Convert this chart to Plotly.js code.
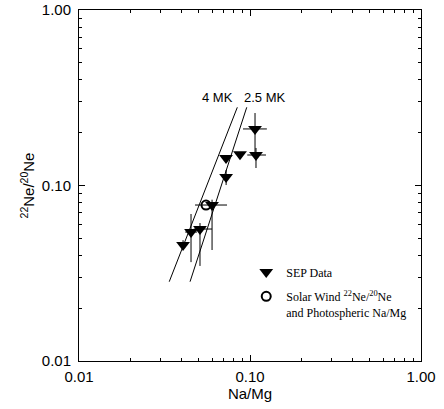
<!DOCTYPE html>
<html>
<head>
<meta charset="utf-8">
<script src="https://cdn.plot.ly/plotly-3.0.1.min.js"></script>
<style>html,body{margin:0;padding:0;background:#fff;}#chart{width:444px;height:409px;}</style>
</head>
<body>
<div id="chart"></div>
<script>
// SEP data points
var sepNaMg   = [0.0406, 0.0452, 0.0510, 0.0600, 0.0724, 0.0725, 0.0874, 0.1084, 0.1070];
var sepNe     = [0.0458, 0.0543, 0.0565, 0.0774, 0.1434, 0.1118, 0.1506, 0.1492, 0.2100];
var sepXplus  = [0, 0.0038, 0.0090, 0.0134, 0, 0, 0, 0.0156, 0.0185];
var sepXminus = [0, 0.0034, 0.0041, 0.0123, 0, 0, 0, 0.0120, 0.0160];
var sepYplus  = [0.0030, 0.0145, 0.0046, 0.0056, 0, 0.0107, 0, 0.0144, 0.0488];
var sepYminus = [0, 0.0177, 0.0217, 0.0345, 0, 0.0112, 0, 0.0234, 0.0610];
// Solar wind / photospheric point
var swNaMg = [0.0553];
var swNe   = [0.0774];
// Model lines
var model4x  = [0.0337, 0.0843];
var model4y  = [0.0283, 0.279];
var model25x = [0.0446, 0.0957];
var model25y = [0.0283, 0.279];
// Axis ticks
var tickVals = [0.01, 0.1, 1];
var tickText = ['0.01', '0.10', '1.00'];
var lineLabels = ['4 MK', '2.5 MK'];

var minorVals = [];
[0.01, 0.1].forEach(function(d){ for (var k = 2; k <= 9; k++) minorVals.push(d * k); });

var traces = [
  {x: model4x, y: model4y, mode: 'lines', line: {color: '#000', width: 1}, showlegend: false, hoverinfo: 'skip'},
  {x: model25x, y: model25y, mode: 'lines', line: {color: '#000', width: 1}, showlegend: false, hoverinfo: 'skip'},
  {x: sepNaMg, y: sepNe, mode: 'markers', name: 'SEP Data', legend: 'legend',
   marker: {symbol: 'triangle-down', size: 12, color: '#000', line: {width: 0}},
   error_x: {type: 'data', symmetric: false, array: sepXplus, arrayminus: sepXminus, color: '#000', thickness: 1, width: 0},
   error_y: {type: 'data', symmetric: false, array: sepYplus, arrayminus: sepYminus, color: '#000', thickness: 1, width: 0}},
  {x: swNaMg, y: swNe, mode: 'markers', legend: 'legend2',
   name: 'Solar Wind <sup>22</sup>Ne/<sup>20</sup>Ne<br>and Photospheric Na/Mg',
   marker: {symbol: 'circle-open', size: 9, color: '#000', line: {width: 2, color: '#000'}}}
];

var axisCommon = {
  type: 'log', range: [-2, 0], showgrid: false, zeroline: false,
  showline: true, linecolor: '#000', linewidth: 1, mirror: 'ticks',
  ticks: 'inside', ticklen: 6, tickcolor: '#000', tickwidth: 1,
  tickmode: 'array', tickvals: tickVals, ticktext: tickText,
  tickfont: {family: 'Liberation Sans, Arial, sans-serif', size: 15, color: '#000'},
  minor: {tickmode: 'array', tickvals: minorVals, ticks: 'inside', ticklen: 3, tickcolor: '#000', tickwidth: 1, showgrid: false}
};

var xaxis = Object.assign({}, axisCommon, {
  title: {text: 'Na/Mg', font: {family: 'Liberation Sans, Arial, sans-serif', size: 15, color: '#000'}, standoff: 0},
  ticklabelstandoff: 2
});
var yaxis = Object.assign({}, axisCommon, {
  title: {text: '<sup>22</sup>Ne/<sup>20</sup>Ne', font: {family: 'Liberation Sans, Arial, sans-serif', size: 15, color: '#000'}, standoff: 3},
  ticklabelstandoff: 4
});

var legendFont = {family: 'Liberation Serif, Times New Roman, serif', size: 12, color: '#000'};

var layout = {
  width: 444, height: 409,
  margin: {l: 79, r: 23, t: 10, b: 48},
  paper_bgcolor: '#fff', plot_bgcolor: '#fff',
  xaxis: xaxis, yaxis: yaxis,
  legend: {x: 0.489, y: 0.2536, xanchor: 'left', yanchor: 'middle', bgcolor: 'rgba(0,0,0,0)', borderwidth: 0, font: legendFont},
  legend2: {x: 0.489, y: 0.161, xanchor: 'left', yanchor: 'middle', bgcolor: 'rgba(0,0,0,0)', borderwidth: 0, font: legendFont, valign: 'top'},
  annotations: [
    {text: lineLabels[0], xref: 'paper', yref: 'paper', x: 0.405, y: 0.752, showarrow: false, xanchor: 'center', yanchor: 'middle',
     font: {family: 'Liberation Sans, Arial, sans-serif', size: 13, color: '#000'}},
    {text: lineLabels[1], xref: 'paper', yref: 'paper', x: 0.544, y: 0.752, showarrow: false, xanchor: 'center', yanchor: 'middle',
     font: {family: 'Liberation Sans, Arial, sans-serif', size: 13, color: '#000'}}
  ]
};

Plotly.newPlot('chart', traces, layout, {displayModeBar: false, staticPlot: true});
</script>
</body>
</html>
